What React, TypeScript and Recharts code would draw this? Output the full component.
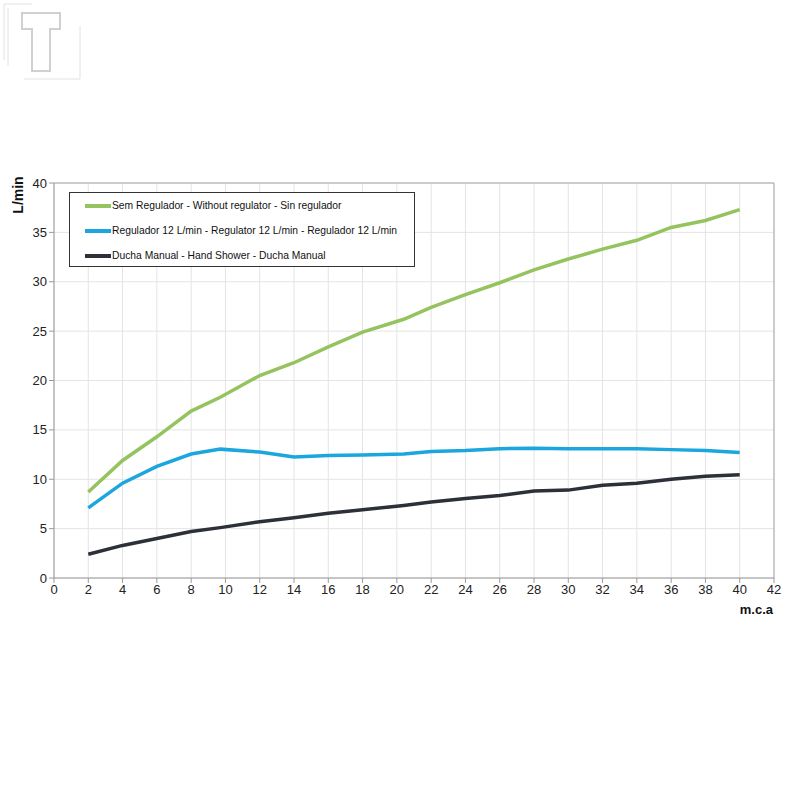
import React from "react";
import {
  LineChart,
  Line,
  XAxis,
  YAxis,
  CartesianGrid,
  ReferenceLine,
} from "recharts";

// pressão (m.c.a) e vazão (L/min)
const pressure = [2, 4, 6, 8, 9.7, 12, 14, 16, 18, 20.4, 22, 24, 26, 28, 30, 32, 34, 36, 38, 40];
const semRegulador = [8.7, 11.9, 14.3, 16.9, 18.3, 20.5, 21.8, 23.4, 24.9, 26.2, 27.4, 28.7, 29.9, 31.2, 32.3, 33.3, 34.2, 35.5, 36.2, 37.3];
const regulador12 = [7.1, 9.6, 11.3, 12.55, 13.05, 12.75, 12.25, 12.4, 12.45, 12.55, 12.8, 12.9, 13.1, 13.15, 13.1, 13.1, 13.1, 13.0, 12.9, 12.7];
const duchaManual = [2.4, 3.3, 4.0, 4.7, 5.1, 5.7, 6.1, 6.55, 6.9, 7.35, 7.7, 8.05, 8.35, 8.8, 8.9, 9.4, 9.6, 10.0, 10.3, 10.45];

const xTicks = [0, 2, 4, 6, 8, 10, 12, 14, 16, 18, 20, 22, 24, 26, 28, 30, 32, 34, 36, 38, 40, 42];
const yTicks = [0, 5, 10, 15, 20, 25, 30, 35, 40];

const seriesNames = [
  "Sem Regulador - Without regulator - Sin regulador",
  "Regulador 12 L/min - Regulator 12 L/min - Regulador 12 L/min",
  "Ducha Manual - Hand Shower - Ducha Manual",
];
const seriesColors = ["#95c35f", "#1ba6de", "#2c3038"];

const data = pressure.map((p, i) => ({
  p,
  sem: semRegulador[i],
  reg: regulador12[i],
  ducha: duchaManual[i],
}));

const FONT = "'Liberation Sans', Arial, sans-serif";

// legenda desenhada por cima do gráfico, sem roubar altura da área de plotagem
const LegendBox = () => (
  <div
    style={{
      position: "absolute",
      left: 69,
      top: 192,
      width: 344,
      height: 73,
      border: "1px solid #333",
      background: "#fff",
      fontFamily: FONT,
      fontSize: 10.3,
      color: "#111",
    }}
  >
    {seriesNames.map((name, i) => (
      <div key={name} style={{ display: "flex", alignItems: "center", height: 25, paddingLeft: 15 }}>
        <div style={{ width: 26, height: 4, background: seriesColors[i], marginRight: 1 }} />
        <span>{name}</span>
      </div>
    ))}
  </div>
);

const Logo = () => (
  <svg width={100} height={90} style={{ position: "absolute", left: 0, top: 0 }}>
    <g fill="none" stroke="#e2e2e2" strokeWidth={1}>
      <polyline points="4,60 4,4 32,4" />
      <polyline points="8,66 8,8" />
      <polyline points="24,79 80,79 80,26" />
    </g>
    <path
      d="M22,13 H60 V29 H50 V71 H32 V29 H22 Z"
      fill="#fff"
      stroke="#d0d0d0"
      strokeWidth={2}
    />
  </svg>
);

export default function App() {
  return (
    <div style={{ position: "absolute", left: 0, top: 0, width: 800, height: 800, background: "#fff" }}>
      <Logo />
      <LineChart
        width={800}
        height={800}
        data={data}
        margin={{ top: 183, right: 26, left: 0, bottom: 192 }}
      >
        <CartesianGrid stroke="#e4e4e4" strokeWidth={1} />
        <XAxis
          dataKey="p"
          type="number"
          domain={[0, 42]}
          ticks={xTicks}
          interval={0}
          height={30}
          stroke="#9a9a9a"
          tickSize={5}
          tick={{ fill: "#222", fontSize: 13, fontFamily: FONT }}
        />
        <YAxis
          type="number"
          domain={[0, 40]}
          ticks={yTicks}
          interval={0}
          width={54}
          stroke="#9a9a9a"
          tickSize={5}
          tick={{ fill: "#222", fontSize: 13, fontFamily: FONT }}
        />
        <ReferenceLine y={40} stroke="#a8a8a8" />
        <ReferenceLine x={42} stroke="#a8a8a8" />
        <Line dataKey="sem" name={seriesNames[0]} stroke={seriesColors[0]} strokeWidth={3.5} dot={false} isAnimationActive={false} />
        <Line dataKey="reg" name={seriesNames[1]} stroke={seriesColors[1]} strokeWidth={3.5} dot={false} isAnimationActive={false} />
        <Line dataKey="ducha" name={seriesNames[2]} stroke={seriesColors[2]} strokeWidth={3.5} dot={false} isAnimationActive={false} />
        <text
          x={18}
          y={195}
          transform="rotate(-90 18 195)"
          textAnchor="middle"
          dominantBaseline="central"
          fontFamily={FONT}
          fontSize={14}
          fontWeight="bold"
          fill="#111"
        >
          L/min
        </text>
        <text x={773} y={614} textAnchor="end" fontFamily={FONT} fontSize={13} fontWeight="bold" fill="#111">
          m.c.a
        </text>
      </LineChart>
      <LegendBox />
    </div>
  );
}
